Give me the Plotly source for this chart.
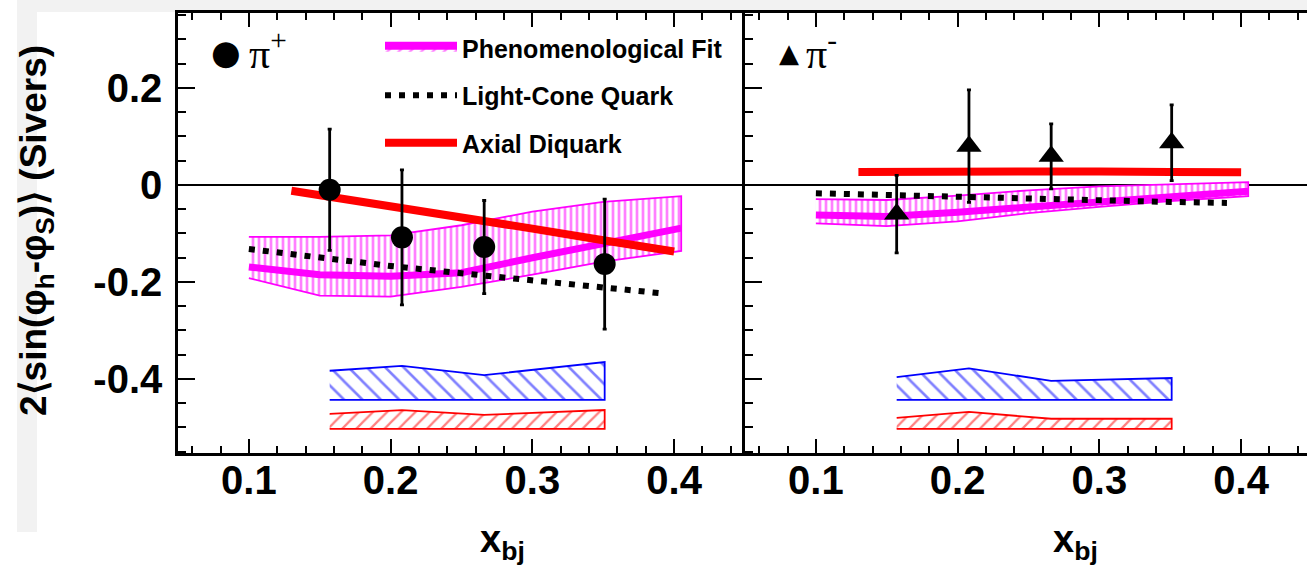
import plotly.graph_objects as go

# ---------------- data ----------------
x_bins = [0.157, 0.208, 0.266, 0.351]

pip_asym = [-0.010, -0.108, -0.128, -0.163]
pip_err = [0.125, 0.139, 0.096, 0.134]
pim_asym = [-0.060, 0.080, 0.059, 0.087]
pim_err = [0.080, 0.116, 0.067, 0.078]

# systematic bands (top edges, common baselines)
sys_blue_base = -0.443
pip_sys_blue_top = [-0.383, -0.373, -0.392, -0.365]
pim_sys_blue_top = [-0.396, -0.378, -0.404, -0.398]
sys_red_base = -0.503
pip_sys_red_top = [-0.472, -0.464, -0.474, -0.464]
pim_sys_red_top = [-0.480, -0.468, -0.482, -0.482]

# phenomenological fit (central + band)
fit_x = [0.10, 0.15, 0.20, 0.25, 0.30, 0.35, 0.405]
pip_fit = [-0.169, -0.185, -0.188, -0.181, -0.150, -0.121, -0.089]
pip_fit_hi = [-0.107, -0.107, -0.104, -0.083, -0.055, -0.035, -0.023]
pip_fit_lo = [-0.192, -0.228, -0.230, -0.210, -0.185, -0.158, -0.136]
pim_fit = [-0.062, -0.065, -0.056, -0.045, -0.033, -0.022, -0.013]
pim_fit_hi = [-0.029, -0.031, -0.022, -0.011, -0.003, 0.002, 0.006]
pim_fit_lo = [-0.079, -0.085, -0.075, -0.058, -0.045, -0.033, -0.023]

# light-cone quark model
lc_x = [0.10, 0.15, 0.20, 0.25, 0.30, 0.35, 0.39]
pip_lc = [-0.132, -0.150, -0.167, -0.182, -0.197, -0.210, -0.223]
pim_lc = [-0.017, -0.021, -0.025, -0.028, -0.032, -0.035, -0.037]

# axial diquark model
dq_x = [0.13, 0.20, 0.25, 0.30, 0.35, 0.40]
pip_dq = [-0.012, -0.043, -0.067, -0.090, -0.114, -0.137]
pim_dq = [0.027, 0.029, 0.029, 0.028, 0.027, 0.026]

x_tickvals = [0.1, 0.2, 0.3, 0.4]
x_ticktext = ["0.1", "0.2", "0.3", "0.4"]
y_tickvals = [-0.4, -0.2, 0.0, 0.2]
y_ticktext = ["-0.4", "-0.2", "0", "0.2"]

MAG = "#ff00ff"
BLUE = "#0000ff"
RED = "#ff0000"
FONT = "Liberation Sans"

W, H = 1307, 566
ML, MT, MB = 178, 13, 113
PW = W - ML
PH = H - MT - MB
split = 567 / PW
px_per_unit = 567 / 0.40
x2_max = 0.05 + (W - ML - 567) / px_per_unit


def px2paper_x(px):
    return (px - ML) / PW


def px2paper_y(py):
    return (H - MB - py) / PH


fig = go.Figure()

panels = [
    ("x", "y", pip_asym, pip_err, pip_sys_blue_top, pip_sys_red_top,
     pip_fit, pip_fit_hi, pip_fit_lo, pip_lc, pip_dq, "circle", 22),
    ("x2", "y2", pim_asym, pim_err, pim_sys_blue_top, pim_sys_red_top,
     pim_fit, pim_fit_hi, pim_fit_lo, pim_lc, pim_dq, "triangle-up", 22),
]

for (xa, ya, asym, err, btop, rtop, fc, fhi, flo, lc, dq, sym, msz) in panels:
    # systematic bands
    fig.add_trace(go.Scatter(
        x=x_bins + x_bins[::-1], y=btop + [sys_blue_base] * len(x_bins),
        xaxis=xa, yaxis=ya, mode="lines", fill="toself",
        fillcolor="rgba(0,0,0,0)",
        fillpattern=dict(shape="\\", fgcolor=BLUE, bgcolor="white", size=13, solidity=0.2),
        line=dict(color=BLUE, width=1.8), showlegend=False, hoverinfo="skip"))
    fig.add_trace(go.Scatter(
        x=x_bins + x_bins[::-1], y=rtop + [sys_red_base] * len(x_bins),
        xaxis=xa, yaxis=ya, mode="lines", fill="toself",
        fillcolor="rgba(0,0,0,0)",
        fillpattern=dict(shape="/", fgcolor=RED, bgcolor="white", size=10, solidity=0.22),
        line=dict(color=RED, width=1.8), showlegend=False, hoverinfo="skip"))
    # fit band
    fig.add_trace(go.Scatter(
        x=fit_x + fit_x[::-1], y=fhi + flo[::-1],
        xaxis=xa, yaxis=ya, mode="lines", fill="toself",
        fillcolor="rgba(0,0,0,0)",
        fillpattern=dict(shape="|", fgcolor=MAG, bgcolor="white", size=6, solidity=0.45),
        line=dict(color=MAG, width=1.8), showlegend=False, hoverinfo="skip"))
    fig.add_trace(go.Scatter(
        x=fit_x, y=fc, xaxis=xa, yaxis=ya, mode="lines",
        line=dict(color=MAG, width=7), showlegend=False))
    fig.add_trace(go.Scatter(
        x=lc_x, y=lc, xaxis=xa, yaxis=ya, mode="lines",
        line=dict(color="black", width=6, dash="6px,8px"), showlegend=False))
    fig.add_trace(go.Scatter(
        x=dq_x, y=dq, xaxis=xa, yaxis=ya, mode="lines",
        line=dict(color=RED, width=8), showlegend=False))
    fig.add_trace(go.Scatter(
        x=x_bins, y=asym, xaxis=xa, yaxis=ya, mode="markers",
        marker=dict(symbol=sym, size=msz, color="black"),
        error_y=dict(type="data", array=err, color="black", thickness=2.8, width=2),
        showlegend=False))

# legend-only entries
fig.add_trace(go.Scatter(
    x=[None], y=[None], mode="lines", fill="toself", fillcolor="rgba(0,0,0,0)",
    fillpattern=dict(shape="/", fgcolor=MAG, bgcolor="white", size=8, solidity=0.3),
    line=dict(color=MAG, width=8), name="Phenomenological Fit", legendgroup="a"))
fig.add_trace(go.Scatter(
    x=[None], y=[None], mode="lines",
    line=dict(color="black", width=6, dash="6px,8px"),
    name="Light-Cone Quark", legendgroup="b"))
fig.add_trace(go.Scatter(
    x=[None], y=[None], mode="lines",
    line=dict(color=RED, width=8), name="Axial Diquark", legendgroup="c"))

axis_common = dict(
    showline=True, linecolor="black", linewidth=2.5, ticks="inside",
    tickcolor="black", tickwidth=2, showgrid=False,
)
tick_font = dict(family=FONT, size=40, color="black", weight="bold")

fig.update_layout(
    width=W, height=H,
    margin=dict(l=ML, r=0, t=MT, b=MB, pad=0),
    paper_bgcolor="white", plot_bgcolor="white",
    showlegend=True,
    legend=dict(
        x=px2paper_x(380), y=px2paper_y(25), xanchor="left", yanchor="top",
        bgcolor="rgba(0,0,0,0)", borderwidth=0,
        font=dict(family=FONT, size=25, color="black", weight="bold"),
        traceorder="grouped", tracegroupgap=12, itemwidth=72,
    ),
    xaxis=dict(domain=[0, split], range=[0.05, 0.45], mirror="ticks",
               tickvals=x_tickvals, ticktext=x_ticktext, ticklen=14,
               tickfont=tick_font, ticklabelstandoff=-10,
               minor=dict(ticks="inside", dtick=0.02, ticklen=7, tickwidth=1.5, tickcolor="black"),
               zeroline=False, **axis_common),
    xaxis2=dict(domain=[split, 1], range=[0.05, x2_max], mirror="ticks", anchor="y2",
                tickvals=x_tickvals, ticktext=x_ticktext, ticklen=14,
                tickfont=tick_font, ticklabelstandoff=-10,
                minor=dict(ticks="inside", dtick=0.02, ticklen=7, tickwidth=1.5, tickcolor="black"),
                zeroline=False, **axis_common),
    yaxis=dict(range=[-0.5526, 0.3546], tickvals=y_tickvals, ticktext=y_ticktext,
               ticklen=17, mirror=False, tickfont=tick_font, ticklabelstandoff=5,
               minor=dict(ticks="inside", dtick=0.05, ticklen=8, tickwidth=1.5, tickcolor="black"),
               zeroline=True, zerolinecolor="black", zerolinewidth=1.5, **axis_common),
    yaxis2=dict(matches="y", anchor="x2", tickvals=y_tickvals, ticklen=17,
                showticklabels=False, mirror=False,
                minor=dict(ticks="inside", dtick=0.05, ticklen=8, tickwidth=1.5, tickcolor="black"),
                zeroline=True, zerolinecolor="black", zerolinewidth=1.5, **axis_common),
)

# screenshot margins (light grey strips)
fig.add_shape(type="rect", xref="paper", yref="paper",
              x0=px2paper_x(17), x1=px2paper_x(W), y0=px2paper_y(12), y1=px2paper_y(0),
              fillcolor="#f2f2f2", line_width=0, layer="below")
fig.add_shape(type="rect", xref="paper", yref="paper",
              x0=px2paper_x(17), x1=px2paper_x(37), y0=px2paper_y(532), y1=px2paper_y(12),
              fillcolor="#f2f2f2", line_width=0, layer="below")

annots = [
    dict(text="●", x=px2paper_x(226), y=px2paper_y(52), font=dict(family="DejaVu Sans", size=34, color="black")),
    dict(text="π<sup>+</sup>", x=px2paper_x(268), y=px2paper_y(50), font=dict(family="Liberation Serif", size=42, color="black")),
    dict(text="▲", x=px2paper_x(789), y=px2paper_y(53), font=dict(family="DejaVu Sans", size=26, color="black")),
    dict(text="π<sup>-</sup>", x=px2paper_x(821), y=px2paper_y(50), font=dict(family="Liberation Serif", size=42, color="black")),
    dict(text="x<sub>bj</sub>", x=px2paper_x(502), y=px2paper_y(542), font=dict(family=FONT, size=38, color="black", weight="bold")),
    dict(text="x<sub>bj</sub>", x=px2paper_x(1075), y=px2paper_y(542), font=dict(family=FONT, size=38, color="black", weight="bold")),
    dict(text="2⟨sin(φ<sub>h</sub>-φ<sub>S</sub>)⟩ (Sivers)", x=px2paper_x(36), y=px2paper_y(231), textangle=-90,
         font=dict(family=FONT, size=37, color="black", weight="bold")),
]
for a in annots:
    fig.add_annotation(xref="paper", yref="paper", xanchor="center", yanchor="middle",
                       showarrow=False, **a)

fig.write_html("out.html")
